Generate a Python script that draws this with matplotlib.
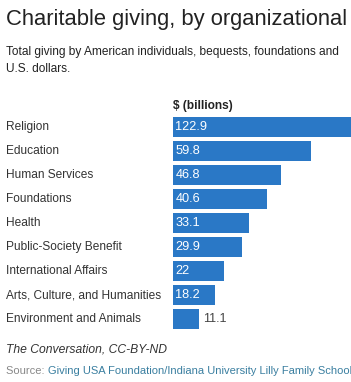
import matplotlib.pyplot as plt

plt.rcParams['font.family'] = ['Liberation Sans', 'DejaVu Sans']

# data
categories = ['Religion', 'Education', 'Human Services', 'Foundations', 'Health',
              'Public-Society Benefit', 'International Affairs',
              'Arts, Culture, and Humanities', 'Environment and Animals']
values = [122.9, 59.8, 46.8, 40.6, 33.1, 29.9, 22, 18.2, 11.1]
value_labels = ['122.9', '59.8', '46.8', '40.6', '33.1', '29.9', '22', '18.2', '11.1']

W, H = 351, 382
fig = plt.figure(figsize=(W / 100, H / 100), dpi=100)
fig.patch.set_facecolor('white')

# axes in pixel coordinates (right edge cropped like the reference)
left, right = 173, 351
top, bottom = 115, 331
ax = fig.add_axes([left / W, 1 - bottom / H, (right - left) / W, (bottom - top) / H])
px_per_unit = 2.31
ax.set_xlim(0, (right - left) / px_per_unit)
ax.set_ylim(len(categories) - 0.5, -0.5)
ax.axis('off')

bar_color = '#2a78c6'
ax.barh(range(len(values)), values, height=0.8, color=bar_color)

for i, (v, lab) in enumerate(zip(values, value_labels)):
    if v > 15:
        ax.text(1.0, i, lab, color='white', fontsize=9.2, va='center', ha='left')
    else:
        ax.text(v + 1.8, i, lab, color='#444444', fontsize=9, va='center', ha='left')

# category labels
for i, c in enumerate(categories):
    y = 127 + 24 * i
    fig.text(6 / W, 1 - y / H, c, fontsize=8.6, color='#333333', va='center', ha='left')

fig.text(173 / W, 1 - 106 / H, '$ (billions)', fontsize=8.6, fontweight='bold',
         color='#222222', va='center', ha='left')

# title and subtitle (cropped at the right edge in the original)
fig.text(6 / W, 1 - 20 / H, 'Charitable giving, by organizational',
         fontsize=15.8, color='#222222', va='center', ha='left')
fig.text(6 / W, 1 - 52 / H,
         'Total giving by American individuals, bequests, foundations and',
         fontsize=8.6, color='#222222', va='center', ha='left')
fig.text(6 / W, 1 - 69 / H, 'U.S. dollars.', fontsize=8.6, color='#222222',
         va='center', ha='left')

# footer
fig.text(6 / W, 1 - 349 / H, 'The Conversation, CC-BY-ND', fontsize=8.7,
         style='italic', color='#333333', va='center', ha='left')
src = fig.text(6 / W, 1 - 371 / H, 'Source: ', fontsize=8, color='#888888',
               va='center', ha='left')
fig.canvas.draw()
bb = src.get_window_extent()
fig.text(bb.x1 / W, 1 - 371 / H,
         'Giving USA Foundation/Indiana University Lilly Family School',
         fontsize=8, color='#3a7fa0', va='center', ha='left')

fig.savefig('out.png', dpi=100)
